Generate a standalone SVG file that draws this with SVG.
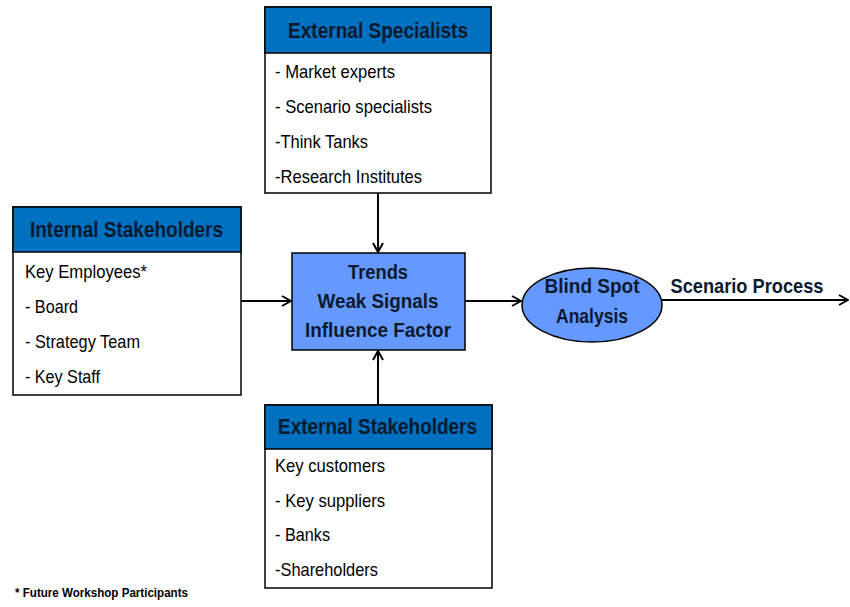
<svg xmlns="http://www.w3.org/2000/svg" width="850" height="607" viewBox="0 0 850 607">
  <style>
    .box { fill: #ffffff; stroke: #000000; stroke-width: 1.5; }
    .hdr { fill: #0070c0; stroke: #000000; stroke-width: 1.5; }
    .core { fill: #6699ff; stroke: #000000; stroke-width: 1.5; }
    text { font-family: "Liberation Sans Narrow", "Liberation Sans", Arial, sans-serif; fill: #000000; }
    .ht { font-size: 22px; font-weight: bold; fill: #0a1a2e; }
    .it { font-size: 19px; }
    .ct { font-size: 20px; font-weight: bold; text-anchor: middle; fill: #0a1a2e; }
    .bt { font-size: 21px; font-weight: bold; text-anchor: middle; fill: #0a1a2e; }
    .link { fill: none; stroke: #000000; stroke-width: 2; marker-end: url(#arr); }
  </style>
  <defs>
    <marker id="arr" viewBox="0 0 12 12" refX="11" refY="6" markerWidth="12" markerHeight="12" markerUnits="userSpaceOnUse" orient="auto">
      <path d="M2,1 L11,6 L2,11" fill="none" stroke="#000000" stroke-width="2"/>
    </marker>
  </defs>

  <g id="connectors">
    <line class="link" x1="378" y1="193" x2="378" y2="252"/>
    <line class="link" x1="378" y1="405" x2="378" y2="351"/>
    <line class="link" x1="241" y1="301" x2="291" y2="301"/>
    <line class="link" x1="465" y1="301" x2="521" y2="301"/>
    <line class="link" x1="662" y1="300" x2="848" y2="300"/>
  </g>

  <g id="external-specialists">
    <rect class="box" x="265" y="7" width="226" height="186"/>
    <rect class="hdr" x="265" y="7" width="226" height="46"/>
    <text class="ht" x="288" y="38" textLength="180" lengthAdjust="spacingAndGlyphs">External Specialists</text>
    <text class="it" x="275" y="78" textLength="120" lengthAdjust="spacingAndGlyphs">- Market experts</text>
    <text class="it" x="275" y="113" textLength="157" lengthAdjust="spacingAndGlyphs">- Scenario specialists</text>
    <text class="it" x="275" y="148" textLength="93" lengthAdjust="spacingAndGlyphs">-Think Tanks</text>
    <text class="it" x="275" y="183" textLength="147" lengthAdjust="spacingAndGlyphs">-Research Institutes</text>
  </g>

  <g id="internal-stakeholders">
    <rect class="box" x="13" y="207" width="228" height="188"/>
    <rect class="hdr" x="13" y="207" width="228" height="45"/>
    <text class="ht" x="30" y="237" textLength="193" lengthAdjust="spacingAndGlyphs">Internal Stakeholders</text>
    <text class="it" x="25" y="278" textLength="122" lengthAdjust="spacingAndGlyphs">Key Employees*</text>
    <text class="it" x="25" y="313" textLength="53" lengthAdjust="spacingAndGlyphs">- Board</text>
    <text class="it" x="25" y="348" textLength="115" lengthAdjust="spacingAndGlyphs">- Strategy Team</text>
    <text class="it" x="25" y="383" textLength="75" lengthAdjust="spacingAndGlyphs">- Key Staff</text>
  </g>

  <g id="signals">
    <rect class="core" x="292" y="253" width="173" height="97"/>
    <text class="ct" x="378" y="279" textLength="60" lengthAdjust="spacingAndGlyphs">Trends</text>
    <text class="ct" x="378" y="308" textLength="121" lengthAdjust="spacingAndGlyphs">Weak Signals</text>
    <text class="ct" x="378" y="337" textLength="146" lengthAdjust="spacingAndGlyphs">Influence Factor</text>
  </g>

  <g id="blind-spot">
    <ellipse class="core" cx="592" cy="305" rx="70" ry="37"/>
    <text class="bt" x="592" y="293" textLength="95" lengthAdjust="spacingAndGlyphs">Blind Spot</text>
    <text class="bt" x="592" y="323" textLength="72" lengthAdjust="spacingAndGlyphs">Analysis</text>
  </g>

  <g id="scenario-process">
    <text class="bt" x="747" y="293" textLength="153" lengthAdjust="spacingAndGlyphs">Scenario Process</text>
  </g>

  <g id="external-stakeholders">
    <rect class="box" x="265" y="405" width="227" height="183"/>
    <rect class="hdr" x="265" y="405" width="227" height="44"/>
    <text class="ht" x="278" y="434" textLength="199" lengthAdjust="spacingAndGlyphs">External Stakeholders</text>
    <text class="it" x="275" y="472" textLength="110" lengthAdjust="spacingAndGlyphs">Key customers</text>
    <text class="it" x="275" y="507" textLength="110" lengthAdjust="spacingAndGlyphs">- Key suppliers</text>
    <text class="it" x="275" y="541" textLength="55" lengthAdjust="spacingAndGlyphs">- Banks</text>
    <text class="it" x="275" y="576" textLength="103" lengthAdjust="spacingAndGlyphs">-Shareholders</text>
  </g>

  <g id="footnote">
    <text x="15" y="597" font-size="12" font-weight="bold" textLength="173" lengthAdjust="spacingAndGlyphs">* Future Workshop Participants</text>
  </g>
</svg>
